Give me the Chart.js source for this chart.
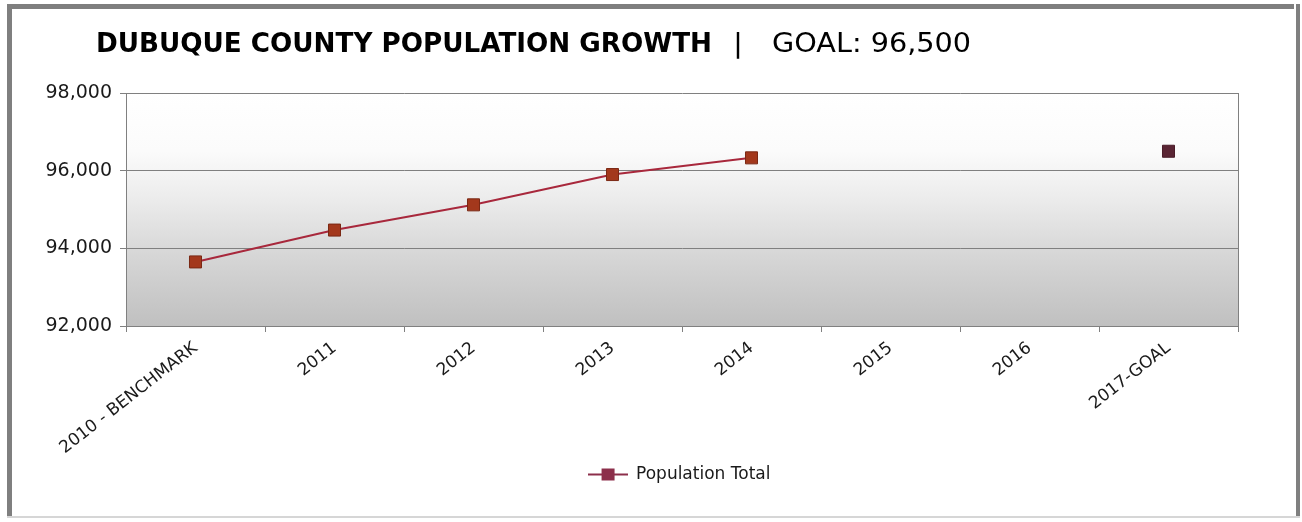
<!DOCTYPE html>
<html>
<head>
<meta charset="utf-8">
<script src="https://cdn.jsdelivr.net/npm/chart.js@4/dist/chart.umd.min.js"></script>
<style>
html,body{margin:0;padding:0;background:#fff;}
#wrap{width:1302px;height:522px;position:relative;}
</style>
</head>
<body>
<div id="wrap"><canvas id="c" width="1302" height="522"></canvas></div>
<script>
// ---- data ----
const categories = ['2010 - BENCHMARK', '2011', '2012', '2013', '2014', '2015', '2016', '2017-GOAL'];
const populationTotal = [93650, 94470, 95120, 95900, 96330, null, null, 96500];
const yTickValues = [92000, 94000, 96000, 98000];
const titleMain = 'DUBUQUE COUNTY POPULATION GROWTH';
const titleSep = '|';
const titleGoal = 'GOAL: 96,500';
const seriesName = 'Population Total';

// ---- styles ----
const FONT = 'DejaVu Sans';
Chart.defaults.font.family = FONT;
Chart.defaults.color = '#1a1a1a';
const markerFill = populationTotal.map((v, i) => i === populationTotal.length - 1 ? '#5a2534' : '#a3381c');
const markerBorder = populationTotal.map((v, i) => i === populationTotal.length - 1 ? '#4a1c28' : '#7a2814');

// legend symbol: line with a square in the middle
const legendImg = document.createElement('canvas');
legendImg.width = 40; legendImg.height = 14;
(function () {
  const g = legendImg.getContext('2d');
  g.strokeStyle = '#8c2f4b'; g.lineWidth = 2;
  g.beginPath(); g.moveTo(0, 7); g.lineTo(40, 7); g.stroke();
  g.fillStyle = '#8c2f4b'; g.fillRect(14, 1, 13, 12);
})();

const framePlugin = {
  id: 'frame',
  afterLayout(chart) {
    // centre the legend under the plot area, as in the original
    const l = chart.legend;
    if (l) { l.left += 60; l.right += 60; }
  },
  beforeDraw(chart) {
    const ctx = chart.ctx, a = chart.chartArea;
    ctx.save();
    ctx.fillStyle = '#ffffff';
    ctx.fillRect(0, 0, chart.width, chart.height);
    // outer frame
    ctx.fillStyle = '#7f7f7f';
    ctx.fillRect(7, 4, 1294 - 7, 5);     // top
    ctx.fillRect(7, 4, 5, 514);          // left
    ctx.fillRect(1296, 4, 4, 514);       // right
    ctx.fillStyle = '#d6d6d6';
    ctx.fillRect(7, 516, 1293, 2);       // bottom
    // plot area gradient
    const grd = ctx.createLinearGradient(0, a.top, 0, a.bottom);
    grd.addColorStop(0, '#ffffff');
    grd.addColorStop(0.25, '#fbfbfb');
    grd.addColorStop(0.45, '#ececec');
    grd.addColorStop(0.7, '#d6d6d6');
    grd.addColorStop(1, '#c0c0c0');
    ctx.fillStyle = grd;
    ctx.fillRect(a.left, a.top, a.right - a.left, a.bottom - a.top);
    ctx.restore();
  },
  afterDraw(chart) {
    const ctx = chart.ctx, a = chart.chartArea;
    ctx.save();
    // right border of plot area
    ctx.strokeStyle = '#808080'; ctx.lineWidth = 1;
    ctx.beginPath(); ctx.moveTo(a.right + 0.5, a.top); ctx.lineTo(a.right + 0.5, a.bottom + 6); ctx.stroke();
    // title
    ctx.fillStyle = '#000000';
    ctx.textBaseline = 'alphabetic';
    const drawFit = (text, font, x, w, y) => {
      ctx.font = font;
      const m = ctx.measureText(text).width;
      ctx.save(); ctx.translate(x, y); ctx.scale(w / m, 1);
      ctx.fillText(text, 0, 0); ctx.restore();
    };
    drawFit(titleMain, 'bold 27px ' + FONT, 96, 616, 52);
    drawFit(titleSep, 'bold 27px ' + FONT, 734, 8, 52);
    drawFit(titleGoal, '27px ' + FONT, 772, 199, 52);
    ctx.restore();
  }
};

new Chart(document.getElementById('c'), {
  type: 'line',
  data: {
    labels: categories,
    datasets: [{
      label: seriesName,
      data: populationTotal,
      borderColor: '#a8283c',
      borderWidth: 2,
      pointStyle: 'rect',
      pointRadius: 8.5,
      pointHoverRadius: 8.5,
      pointBackgroundColor: markerFill,
      pointBorderColor: markerBorder,
      pointBorderWidth: 1,
      spanGaps: false,
      tension: 0,
      fill: false
    }]
  },
  options: {
    responsive: false,
    animation: false,
    devicePixelRatio: 1,
    layout: { padding: { top: 93, right: 64, bottom: 29, left: 0 } },
    plugins: {
      title: { display: false },
      tooltip: { enabled: false },
      legend: {
        display: true,
        position: 'bottom',
        labels: {
          usePointStyle: true,
          pointStyle: legendImg,
          pointStyleWidth: 40,
          padding: 10,
          color: '#1a1a1a',
          font: { size: 17, family: FONT }
        }
      }
    },
    scales: {
      x: {
        type: 'category',
        offset: true,
        grid: { offset: true, drawOnChartArea: false, drawTicks: true, tickLength: 6, color: '#808080' },
        border: { display: true, color: '#808080' },
        ticks: { minRotation: 38, maxRotation: 38, autoSkip: false, padding: 6, color: '#1a1a1a', font: { size: 17 } },
        afterFit(s) { s.height = 130; }
      },
      y: {
        min: 92000,
        max: 98000,
        afterBuildTicks(s) { s.ticks = yTickValues.map(v => ({ value: v })); },
        grid: { color: '#808080', tickLength: 6, drawTicks: true },
        border: { display: true, color: '#808080' },
        ticks: { padding: 8, color: '#1a1a1a', font: { size: 19 } },
        afterFit(s) { s.width = 126; }
      }
    }
  },
  plugins: [framePlugin]
});
</script>
</body>
</html>
